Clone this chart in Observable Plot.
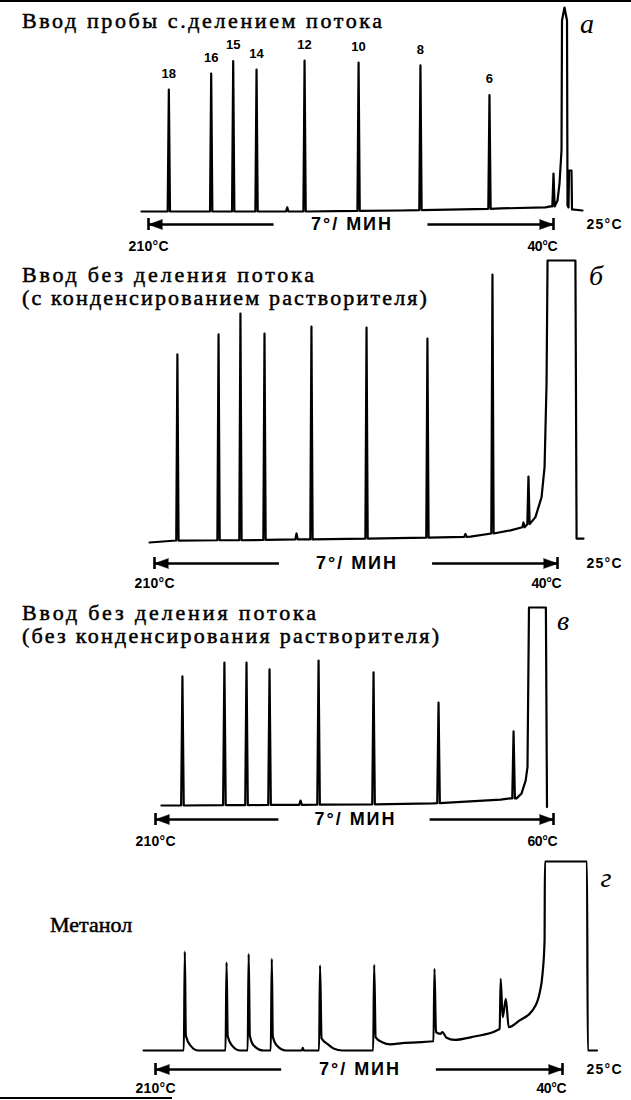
<!DOCTYPE html>
<html><head><meta charset="utf-8">
<script src="https://cdn.jsdelivr.net/npm/d3@7"></script>
<script src="https://cdn.jsdelivr.net/npm/@observablehq/plot@0.6"></script>
<style>
body{margin:0;background:#fff;}
#page{position:relative;width:631px;height:1100px;overflow:hidden;background:#fff;}
.ttl{position:absolute;left:22px;font-family:"Liberation Serif","Times New Roman",serif;font-size:22px;color:#000;white-space:nowrap;-webkit-text-stroke:0.5px #000;}
.ttl span{display:inline;}
.lab{position:absolute;font-family:"Liberation Serif","Times New Roman",serif;font-style:italic;font-size:28px;line-height:28px;transform:translateX(-50%);}
.panel{position:absolute;left:0;}
.deco{position:absolute;background:#000;}
</style></head>
<body><div id="page"></div>
<script>
// ---------------- DATA (time in min from the start of the ramp; response in % of full scale) ----------------
// panel а — split injection
const aTitle = ["Ввод пробы с.делением потока"];
const aCarbon = ["18", "16", "15", "14", "12", "10", "8", "6"];
const aCarbonIdx = [0, 1, 2, 3, 5, 6, 7, 8];
const aBaseT = [24.71, 15.17, 9.18, 3.18, 0.48, 0.18];
const aBaseV = [0, 0, 0.5, 1.5, 2.0, 2.5];
const aPeakT = [23.07, 20.53, 19.21, 17.81, 15.97, 14.93, 11.69, 7.98, 3.84, 0.0];
const aPeakTop = [59.8, 67.6, 73.7, 69.6, 2.0, 74.0, 73.0, 71.6, 57.1, 18.6];
const aPeakBase = [0, 0, 0, 0, 0, 0, 0.3, 0.7, 1.3, 2.5];
const aSolvT = [-0.24, -0.36, -0.48, -0.51, -0.66, -0.81, -0.84, -0.90, -0.93, -1.08, -1.11, -1.74];
const aSolvV = [5.4, 13.7, 29.9, 93.6, 100, 93.6, 2.9, 2.0, 20.1, 20.1, 1.0, 0.5];
const aTemps = ["210°C", "40°C", "25°C"];

// panel б — splitless, with solvent condensation
const bTitle = ["Ввод без деления потока", "(с конденсированием растворителя)"];
const bBaseT = [24.59, 15.49, 5.24, 2.83, 1.33, 0.96, 0.78, 0.66, 0.60, -1.08, -1.15, -1.57];
const bBaseV = [0, 1.1, 2.1, 4.3, 9.0, 16.1, 26.7, 56.4, 100, 100, 1.4, 1.4];
const bPeakT = [22.91, 20.43, 19.11, 17.66, 15.73, 14.83, 11.51, 7.84, 5.55, 3.92, 2.05, 1.75];
const bPeakTop = [66.7, 73.8, 81.2, 74.1, 3.2, 76.6, 76.2, 72.3, 3.0, 95.0, 7.1, 23.4];
const bPeakBase = [0.7, 0.8, 0.8, 0.9, 1.1, 1.1, 1.4, 1.7, 2.0, 3.2, 5.4, 6.5];
const bTemps = ["210°C", "40°C", "25°C"];

// panel в — splitless, without solvent condensation
const cTitle = ["Ввод без деления потока", "(без конденсирования растворителя)"];
const cBaseT = [21.11, 6.5, 2.85, 2.32, 1.99, 1.72, 1.50, 1.40, 1.32, 0.41, 0.35];
const cBaseV = [0, 1.1, 3.0, 3.6, 3.6, 6.1, 12.6, 19.4, 100, 100, -0.8];
const cPeakT = [19.98, 17.72, 16.53, 15.29, 13.62, 12.65, 9.69, 6.19, 2.15];
const cPeakTop = [65.2, 72.2, 72.2, 68.7, 2.5, 73.2, 67.2, 52.0, 37.4];
const cPeakBase = [0, 0.2, 0.2, 0.3, 0.3, 0.4, 0.6, 1.2, 3.6];
const cTemps = ["210°C", "60°C"];

// panel г — methanol (tailing peaks)
const dTitle = ["Метанол"];
const dT = [25.0, 22.60, 22.54, 22.48, 22.20, 21.73,
  20.11, 20.05, 19.98, 19.72, 19.23,
  18.79, 18.73, 18.66, 18.43, 17.84,
  17.41, 17.35, 17.29, 17.05, 16.50,
  15.56, 15.50, 15.44,
  14.53, 14.47, 14.38, 13.99, 13.63, 13.15,
  11.30, 11.24, 11.15, 10.76, 10.28, 9.56,
  7.70, 7.64, 7.55, 7.29, 7.17, 6.92, 6.45, 5.25, 3.93,
  3.75, 3.69, 3.57, 3.38, 3.21, 2.56, 1.79, 1.37, 1.19, 1.07, 1.05, -1.46, -1.51, -2.06];
const dV = [0, 0, 52.4, 8.0, 2.6, 0,
  0, 46.7, 7.5, 2.6, 0,
  0, 51.1, 7.9, 2.6, 0,
  0, 48.5, 7.5, 2.6, 0,
  0, 1.4, 0,
  0, 45.0, 6.5, 3.2, 0.9, 0,
  0, 45.3, 7.0, 4.4, 3.2, 3.9,
  4.9, 43.2, 9.7, 8.8, 9.7, 6.7, 5.6, 7.4, 10.6,
  11.5, 37.9, 17.6, 27.3, 12.3, 15.9, 21.2, 30.2, 40.7, 58.2, 100, 100, 0, 0];
const dTemps = ["210°C", "40°C", "25°C"];

const rampLabel = "7°/ МИН";
const panelLetters = ["а", "б", "в", "г"];

// ---------------- BUILD ----------------
const HALF = 0.07; // drawn half-width of a sharp peak, min
function spikeTrace(baseT, baseV, peakT, peakTop, peakBase, extraT = [], extraV = []) {
  const pts = [];
  baseT.forEach((t, i) => pts.push({t, v: baseV[i]}));
  extraT.forEach((t, i) => pts.push({t, v: extraV[i]}));
  peakT.forEach((t, i) => {
    pts.push({t: t + HALF, v: peakBase[i]}, {t, v: peakTop[i]}, {t: t - HALF, v: peakBase[i]});
  });
  return pts.sort((p, q) => q.t - p.t);
}

const SANS = '"Liberation Sans", Arial, sans-serif';
const TEXT_LEN = {"7°/ МИН": 80, "210°C": 40, "40°C": 30, "60°C": 30, "25°C": 35};
const page = document.getElementById("page");

// a title block: one div, one span per line, each line stretched to the width it has in the scan
function addTitle(lines, rights, left, top, lineHeight) {
  const d = document.createElement("div");
  d.className = "ttl";
  d.style.left = left + "px";
  d.style.top = top + "px";
  d.style.lineHeight = lineHeight + "px";
  page.appendChild(d);
  lines.forEach((txt, i) => {
    if (i) d.appendChild(document.createElement("br"));
    const s = document.createElement("span");
    s.textContent = txt;
    d.appendChild(s);
    if (rights[i]) {
      const w = s.getBoundingClientRect().width;
      const n = [...txt].length;
      const ls = (rights[i] - left - w) / (n - 1);
      s.style.letterSpacing = ls.toFixed(2) + "px";
    }
  });
}
function addDiv(cls, text, style) {
  const d = document.createElement("div");
  d.className = cls;
  d.textContent = text;
  Object.assign(d.style, style);
  page.appendChild(d);
}

function makePanel(c) {
  const ppu = (c.yBase - c.yTop) / 100;
  const val = px => (c.yBase - px) / ppu;
  const aY = val(c.arrowPx);
  const tL = c.tL;
  const shafts = [{x1: tL, x2: tL * 0.69, y: aY}, {x1: tL * 0.31, x2: 0, y: aY}];
  const ends = [{x: tL, r: -90, y: aY, y1: val(c.arrowPx - 6), y2: val(c.arrowPx + 6)},
                {x: 0, r: 90, y: aY, y1: val(c.arrowPx - 6), y2: val(c.arrowPx + 6)}];
  const lblDy = c.labelPx - c.arrowPx;
  const marks = [
    Plot.line(c.trace, {x: "t", y: "v", stroke: "#000", strokeWidth: 2.2, strokeLinejoin: "round", curve: c.curve || "linear"}),
    Plot.ruleY(shafts, {x1: "x1", x2: "x2", y: "y", stroke: "#000", strokeWidth: 2.5}),
    Plot.ruleX(ends, {x: "x", y1: "y1", y2: "y2", stroke: "#000", strokeWidth: 2.6}),
    Plot.vector(ends, {x: "x", y: "y", rotate: "r", length: 14, r: 5, shape: "spike", anchor: "end", fill: "#000", stroke: "#000", strokeWidth: 0.5}),
    Plot.text([{t: tL / 2, y: aY, s: rampLabel}], {x: "t", y: "y", text: "s", fontFamily: SANS, fontWeight: "bold", fontSize: 18, fill: "#000"}),
    Plot.text([{t: tL, y: aY, s: c.temps[0]}], {x: "t", y: "y", text: "s", dy: lblDy, fontFamily: SANS, fontWeight: "bold", fontSize: 14, fill: "#000"}),
    Plot.text([{t: 0, y: aY, s: c.temps[1]}], {x: "t", y: "y", text: "s", dy: lblDy, dx: 4, textAnchor: "end", fontFamily: SANS, fontWeight: "bold", fontSize: 14, fill: "#000"})
  ];
  if (c.temps[2]) {
    marks.push(Plot.text([{y: aY, s: c.temps[2]}], {y: "y", text: "s", frameAnchor: "right", dx: -10, textAnchor: "end", fontFamily: SANS, fontWeight: "bold", fontSize: 14, fill: "#000"}));
  }
  if (c.peakLabels) {
    marks.push(Plot.text(c.peakLabels, {x: "t", y: "v", text: "s", dy: -16, fontFamily: SANS, fontWeight: "bold", fontSize: 13, fill: "#000"}));
  }
  const svg = Plot.plot({
    width: 631, height: c.height, margin: 0,
    style: {background: "transparent", overflow: "visible"},
    x: {domain: [tL, 0], range: [c.xL, c.xR], axis: null},
    y: {domain: [0, 100], range: [c.yBase - c.top, c.yTop - c.top], axis: null},
    marks
  });
  d3.select(svg).selectAll("text").each(function () {
    const L = TEXT_LEN[this.textContent];
    if (L) { this.setAttribute("textLength", L); this.setAttribute("lengthAdjust", "spacing"); }
  });
  svg.classList.add("panel");
  svg.style.top = c.top + "px";
  svg.style.position = "absolute";
  page.appendChild(svg);
}

// panel а
makePanel({
  top: 0, height: 252, xL: 148, xR: 553, tL: 24.29, yBase: 211, yTop: 7, arrowPx: 224, labelPx: 246,
  trace: spikeTrace(aBaseT, aBaseV, aPeakT, aPeakTop, aPeakBase, aSolvT, aSolvV),
  temps: aTemps,
  peakLabels: aCarbon.map((s, i) => ({s, t: aPeakT[aCarbonIdx[i]], v: aPeakTop[aCarbonIdx[i]]}))
});
// panel б
makePanel({
  top: 252, height: 336, xL: 154, xR: 557, tL: 24.29, yBase: 542, yTop: 260, arrowPx: 563, labelPx: 583,
  trace: spikeTrace(bBaseT, bBaseV, bPeakT, bPeakTop, bPeakBase), temps: bTemps
});
// panel в
makePanel({
  top: 588, height: 260, xL: 155, xR: 553, tL: 21.43, yBase: 805, yTop: 607, arrowPx: 819, labelPx: 841,
  trace: spikeTrace(cBaseT, cBaseV, cPeakT, cPeakTop, cPeakBase), temps: cTemps
});
// panel г
makePanel({
  top: 848, height: 252, xL: 155, xR: 562, tL: 24.29, yBase: 1050, yTop: 861, arrowPx: 1069, labelPx: 1088,
  trace: dT.map((t, i) => ({t, v: dV[i]})), temps: dTemps, curve: "monotone-x"
});

// titles
addTitle(aTitle, [382], 22, 10, 22);
addTitle(bTitle, [314, 427], 22, 263, 23);
addTitle(cTitle, [316, 439], 22, 601, 23);
addTitle(dTitle, [null], 50, 914, 22);
// panel letters
addDiv("lab", panelLetters[0], {left: "587px", top: "10px"});
addDiv("lab", panelLetters[1], {left: "596px", top: "262px"});
addDiv("lab", panelLetters[2], {left: "563px", top: "607px"});
addDiv("lab", panelLetters[3], {left: "606px", top: "864px"});
// scan border remnants
addDiv("deco", "", {left: "0px", top: "0px", width: "631px", height: "2px"});
addDiv("deco", "", {left: "0px", top: "1097px", width: "172px", height: "2px"});
</script>
</body></html>
